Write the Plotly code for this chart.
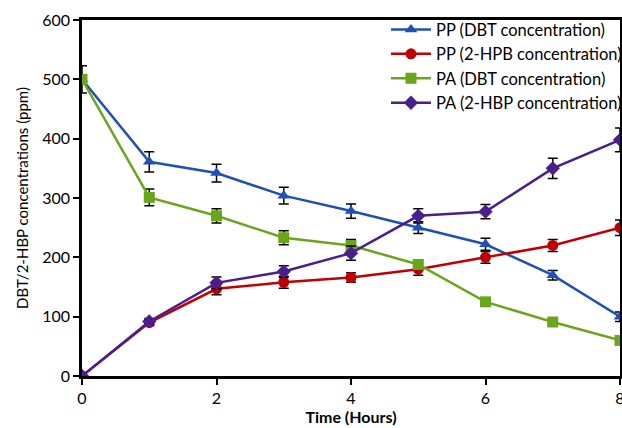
import plotly.graph_objects as go

hours = [0, 1, 2, 3, 4, 5, 6, 7, 8]
pp_dbt = [500, 361, 342, 304, 278, 250, 222, 170, 100]
pp_dbt_err = [23, 17, 15, 14, 12, 10, 10, 8, 8]
pp_hpb = [0, 90, 147, 158, 166, 180, 200, 220, 250]
pp_hpb_err = [0, 5, 10, 10, 8, 10, 10, 10, 13]
pa_dbt = [500, 301, 270, 233, 220, 188, 125, 91, 60]
pa_dbt_err = [5, 14, 12, 12, 10, 8, 5, 5, 5]
pa_hbp = [0, 92, 157, 176, 207, 270, 277, 350, 398]
pa_hbp_err = [0, 5, 10, 10, 12, 12, 12, 17, 20]

names = ["PP (DBT concentration)", "PP (2-HPB concentration)",
         "PA (DBT concentration)", "PA (2-HBP concentration)"]
colors = ["#1f4fb8", "#c00000", "#6aa61c", "#4a1e8c"]
symbols = ["triangle-up", "circle", "square", "diamond"]
sizes = [11, 11, 11, 11]
series = [(pp_dbt, pp_dbt_err), (pp_hpb, pp_hpb_err), (pa_dbt, pa_dbt_err), (pa_hbp, pa_hbp_err)]

fig = go.Figure()
for (vals, errs), name, c, s, sz in zip(series, names, colors, symbols, sizes):
    fig.add_trace(go.Scatter(
        x=hours, y=vals, name=name, mode="lines+markers",
        line=dict(color=c, width=2.5),
        marker=dict(symbol=s, size=sz, color=c),
        error_y=dict(type="data", array=errs, color="black", thickness=1.5, width=5),
    ))

fig.update_layout(
    width=622, height=428,
    margin=dict(l=82, r=2, t=20, b=52, autoexpand=False),
    plot_bgcolor="white", paper_bgcolor="white",
    font=dict(family="Lato, Open Sans, sans-serif", size=16, color="black"),
    showlegend=True,
    legend=dict(x=0.565, y=1.022, xanchor="left", yanchor="top",
                bgcolor="rgba(255,255,255,0)", font=dict(size=16.5),
                tracegroupgap=0, itemwidth=40),
    xaxis=dict(range=[0, 8], tickvals=[0, 2, 4, 6, 8], showgrid=False, zeroline=False,
               showline=True, linecolor="black", linewidth=2.5, mirror=True,
               ticks="outside", ticklen=6, tickwidth=2, tickcolor="black",
               tickfont=dict(size=16), automargin=False, ticklabeloverflow="allow",
               title=dict(text="<b>Time (Hours)</b>", font=dict(size=16), standoff=4)),
    yaxis=dict(range=[0, 600], tickvals=[0, 100, 200, 300, 400, 500, 600], showgrid=False,
               zeroline=False, showline=True, linecolor="black", linewidth=2.5, mirror=True,
               ticks="outside", ticklen=6, tickwidth=2, tickcolor="black",
               tickfont=dict(size=16), automargin=False,
               title=dict(text="DBT/2-HBP concentrations (ppm)", font=dict(size=15), standoff=10)),
)

fig.write_html("out.html", config={"displayModeBar": False},
               post_script="document.body.style.margin='0';document.body.style.overflow='hidden';")
